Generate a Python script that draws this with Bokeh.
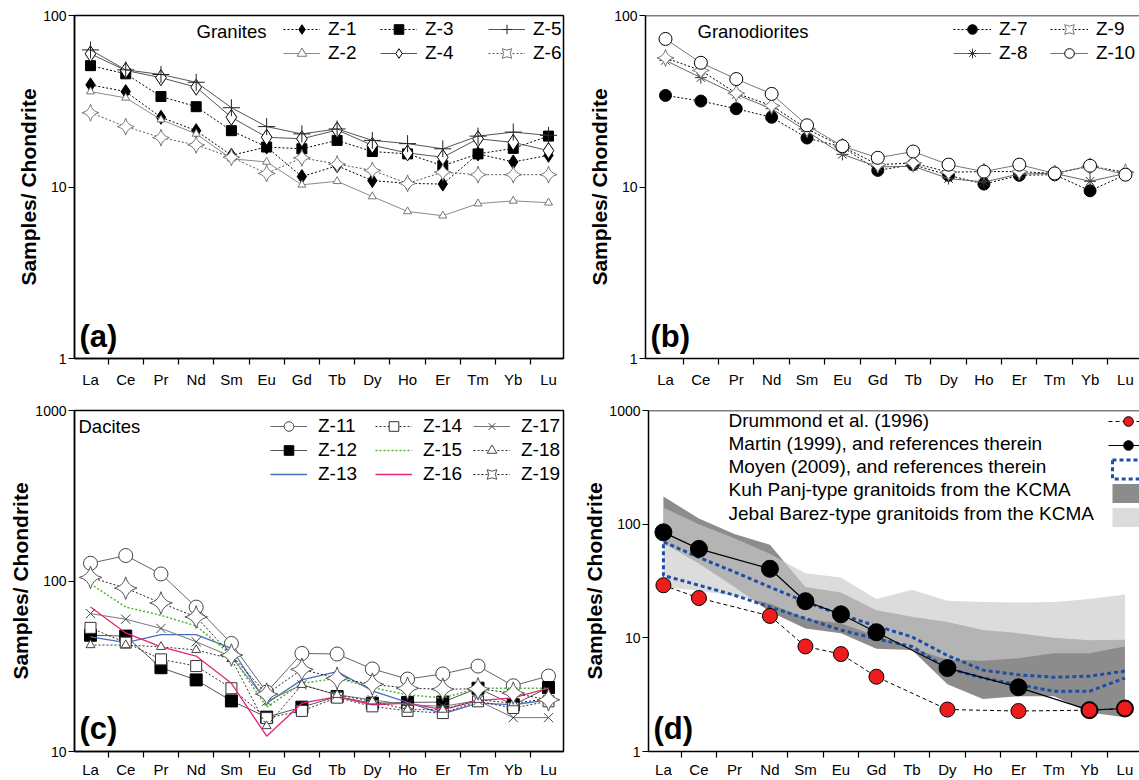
import math
from bokeh.plotting import figure
from bokeh.layouts import column, row
from bokeh.models import (FixedTicker, Legend, LegendItem, Label, Span, Range1d,
                          PrintfTickFormatter)
from bokeh.embed import file_html
from bokeh.resources import INLINE

FONT = "Liberation Sans"

elements = ["La", "Ce", "Pr", "Nd", "Sm", "Eu", "Gd", "Tb", "Dy", "Ho", "Er", "Tm", "Yb", "Lu"]
xi = list(range(len(elements)))

# ---------------- (a) Granites ----------------
z1 = [39.4, 36.0, 25.5, 21.3, 15.3, 17.1, 11.5, 13.3, 10.9, 10.5, 10.4, 15.6, 14.0, 15.3]
z2 = [36.0, 33.1, 24.7, 20.4, 14.6, 14.0, 10.3, 10.8, 8.8, 7.2, 6.8, 8.0, 8.3, 8.1]
z3 = [51.0, 45.7, 33.7, 29.4, 21.3, 17.1, 16.7, 18.7, 16.1, 15.6, 13.3, 15.6, 16.8, 19.8]
z4 = [59.8, 47.8, 43.4, 38.2, 25.5, 19.5, 19.1, 21.5, 17.5, 15.8, 14.9, 19.1, 18.2, 16.3]
z5 = [63.0, 48.2, 45.3, 40.8, 29.0, 22.5, 20.4, 21.8, 18.7, 17.9, 16.7, 19.8, 20.9, 20.0]
z6 = [27.1, 22.5, 19.4, 17.6, 14.9, 12.0, 14.8, 13.6, 12.5, 10.5, 12.2, 11.8, 11.8, 11.8]

# ---------------- (b) Granodiorites ----------------
z7 = [34.2, 31.7, 28.6, 25.5, 19.3, 17.1, 12.5, 13.5, 11.7, 10.4, 11.7, 11.8, 9.5, 11.8]
z8 = [54.7, 43.4, 34.6, 28.6, 21.1, 15.5, 13.1, 13.2, 11.2, 10.7, 11.9, 12.0, 10.8, 12.0]
z9 = [56.6, 47.8, 35.2, 29.8, 21.8, 17.2, 13.5, 13.8, 12.2, 12.3, 12.3, 12.0, 13.2, 12.2]
z10 = [73.0, 53.0, 42.6, 34.9, 22.9, 17.3, 14.8, 16.1, 13.5, 12.3, 13.5, 12.0, 13.3, 11.8]

# ---------------- (c) Dacites ----------------
z11 = [127, 141, 110, 70.3, 43.0, 22.3, 37.6, 37.3, 30.5, 26.6, 28.5, 31.7, 24.3, 27.7]
z12 = [48.1, 47.5, 31.0, 26.3, 19.8, 15.9, 18.2, 21.0, 19.2, 19.4, 19.5, 23.5, 18.8, 23.7]
z13 = [47.0, 43.5, 48.5, 48.5, 40.2, 19.2, 26.3, 29.4, 22.7, 19.4, 16.6, 19.2, 18.8, 20.1]
z14 = [53.1, 43.5, 34.7, 31.7, 23.5, 15.7, 17.3, 20.7, 18.4, 17.3, 16.8, 19.7, 18.0, 19.7]
z15 = [96.2, 70.3, 62.9, 54.5, 36.8, 18.2, 25.1, 26.9, 23.7, 21.5, 20.6, 23.5, 23.5, 23.5]
z16 = [70.3, 49.6, 41.1, 36.3, 25.1, 12.3, 19.2, 21.0, 18.8, 19.2, 17.6, 19.9, 20.6, 23.5]
z17 = [64.4, 59.7, 52.7, 44.0, 36.0, 19.7, 24.6, 21.5, 20.1, 18.8, 18.4, 19.9, 15.8, 15.8]
z18 = [42.1, 42.1, 41.1, 39.4, 34.9, 14.1, 24.6, 21.5, 19.7, 17.6, 17.6, 20.1, 19.2, 20.4]
z19 = [105, 90.8, 74.3, 61.5, 36.8, 21.7, 30.3, 26.9, 24.8, 23.5, 23.2, 23.3, 22.0, 20.1]

# ---------------- (d) Reference compositions ----------------
ref_elements = ["La", "Ce", "Nd", "Sm", "Eu", "Gd", "Dy", "Er", "Yb", "Lu"]
drummond = [29.0, 22.4, 15.6, 8.4, 7.2, 4.55, 2.34, 2.27, 2.31, 2.39]
martin = [84.7, 60.6, 40.5, 21.0, 16.1, 11.2, 5.42, 3.67, 2.31, 2.39]
moyen_upper = [70, 51, 38, 28, 20.7, 16, 12.7, 10.2, 7.0, 5.2, 4.73, 4.5, 4.6, 5.1]
moyen_lower = [35.4, 29, 23.7, 18.7, 14.8, 11.7, 9.8, 8.4, 5.4, 4.43, 3.87, 3.39, 3.39, 4.43]
kuh_hi = [175, 112, 82, 66, 28, 25, 17.5, 15.3, 13.8, 11.7, 11.0, 10.0, 9.5, 9.6]
kuh_lo = [68, 45, 28, 17, 12.1, 11, 8.0, 7.8, 3.9, 2.9, 3.06, 3.06, 2.2, 2.0]
jeb_hi = [140, 100, 75, 55, 37, 34, 22, 26.5, 21.2, 20.7, 20.5, 20.7, 22, 24]
jeb_lo = [28, 26, 23.5, 20, 14.8, 13.4, 10.4, 8.1, 6.4, 6.3, 6.6, 7.3, 7.3, 8.4]


class Geo:
    """Frame geometry helper (page pixel -> data coordinate for annotations)."""
    def __init__(self, left, top, unit, x0, top_log, decade):
        self.left, self.top, self.unit, self.x0 = left, top, unit, x0
        self.top_log, self.decade = top_log, decade

    def x(self, px):
        return self.x0 + (px - self.left) / self.unit

    def y(self, py):
        return 10 ** (self.top_log - (py - self.top) / self.decade)


def base_fig(width, height, bl, br, bt, bb, xr, yr, yticks, outline=True, xstand=3):
    p = figure(width=width, height=height, y_axis_type="log",
               x_range=Range1d(*xr), y_range=Range1d(*yr),
               output_backend="svg", toolbar_location=None,
               min_border_left=bl, min_border_right=br,
               min_border_top=bt, min_border_bottom=bb)
    p.xgrid.visible = False
    p.ygrid.visible = False
    p.background_fill_color = "white"
    if outline:
        p.outline_line_color = "black"
        p.outline_line_width = 1.5
        p.outline_line_alpha = 1.0
    else:
        p.outline_line_color = None
        p.add_layout(Span(location=yr[1], dimension="width", line_color="black", line_width=1.5))
    xa = p.xaxis[0]
    xa.ticker = FixedTicker(ticks=xi, minor_ticks=[i + 0.5 for i in range(len(elements) - 1)])
    xa.major_label_overrides = {i: e for i, e in enumerate(elements)}
    xa.major_tick_line_color = None
    xa.major_tick_out = 3
    xa.major_tick_in = 0
    xa.minor_tick_out = 6
    xa.minor_tick_in = 0
    xa.minor_tick_line_color = "black"
    xa.minor_tick_line_width = 1.2
    xa.major_label_standoff = xstand
    xa.major_label_text_font = FONT
    xa.major_label_text_font_size = "15px"
    xa.major_label_text_color = "black"
    xa.axis_line_width = 1.5
    xa.axis_line_color = "black"

    ya = p.yaxis[0]
    ya.ticker = FixedTicker(ticks=yticks)
    ya.formatter = PrintfTickFormatter(format="%d")
    ya.minor_tick_line_color = None
    ya.major_tick_out = 6
    ya.major_tick_in = 0
    ya.major_tick_line_width = 1.2
    ya.major_label_standoff = 2
    ya.major_label_text_font = FONT
    ya.major_label_text_font_size = "14px"
    ya.major_label_text_color = "black"
    ya.axis_line_width = 1.5
    ya.axis_line_color = "black"
    ya.axis_label = "Samples/ Chondrite"
    ya.axis_label_text_font = FONT
    ya.axis_label_text_font_style = "bold"
    ya.axis_label_text_font_size = "21px"
    ya.axis_label_text_color = "black"
    ya.axis_label_standoff = 0
    return p


def series(p, x, y, line_color="black", dash="solid", lw=1.0, marker=None, size=10,
           fill="black", mline="black", angle=0.0):
    rs = [p.line(x, y, line_color=line_color, line_dash=dash, line_width=lw)]
    if marker is not None:
        rs.append(p.scatter(x, y, marker=marker, size=size, fill_color=fill,
                            line_color=mline, line_width=1.0, angle=angle))
    return rs


def col_legend(p, items, x, y, glyph_w=37, fs="19px", spacing=-8, h=24, standoff=8):
    lg = Legend(items=items, location=(x, y), orientation="vertical",
                background_fill_alpha=0, border_line_alpha=0, padding=0, margin=0,
                spacing=spacing, glyph_width=glyph_w, glyph_height=h, label_height=h,
                label_standoff=standoff, label_text_font=FONT, label_text_font_size=fs,
                label_text_color="black", inactive_fill_alpha=0.0)
    p.add_layout(lg)
    return lg


def txt(p, x, y, text, size="18.5px", bold=False, baseline="middle"):
    p.add_layout(Label(x=x, y=y, text=text, text_font=FONT, text_font_size=size,
                       text_font_style="bold" if bold else "normal",
                       text_baseline=baseline, text_align="left", text_color="black"))


DOT = "2 2"
PIN = math.pi / 4

# ================= panel (a) =================
ga = Geo(left=74, top=15, unit=35.23, x0=-0.454, top_log=2, decade=171.5)
pa = base_fig(578, 398, 74, 15, 15, 40, (-0.454, 13.426), (1, 100), [1, 10, 100], xstand=6)
r1 = series(pa, xi, z1, dash=DOT, marker="diamond", size=14, fill="black")
r2 = series(pa, xi, z2, line_color="#8a8a8a", marker="triangle", size=8, fill="white", mline="#777777")
r3 = series(pa, xi, z3, dash=DOT, marker="square", size=10, fill="black")
r4 = series(pa, xi, z4, line_color="#555555", marker="diamond", size=16, fill="white", mline="black")
r5 = series(pa, xi, z5, line_color="#555555", marker="cross", size=17, fill=None, mline="#222222")
r6 = series(pa, xi, z6, line_color="#555555", dash=DOT, marker="square_pin", size=12, fill="white",
            mline="#777777", angle=PIN)
col_legend(pa, [LegendItem(label="Z-1", renderers=r1), LegendItem(label="Z-2", renderers=r2)], 209, 293)
col_legend(pa, [LegendItem(label="Z-3", renderers=r3), LegendItem(label="Z-4", renderers=r4)], 306, 293)
col_legend(pa, [LegendItem(label="Z-5", renderers=r5), LegendItem(label="Z-6", renderers=r6)], 414, 293)
txt(pa, ga.x(196), ga.y(31), "Granites")
txt(pa, ga.x(79), ga.y(353), "(a)", size="31px", bold=True, baseline="bottom")

# ================= panel (b) =================
gb = Geo(left=645, top=15, unit=35.38, x0=-0.565, top_log=2, decade=171.5)
pb = base_fig(561, 398, 67, 0, 15, 40, (-0.565, 13.397), (1, 100), [1, 10, 100], outline=False, xstand=6)
r7 = series(pb, xi, z7, dash=DOT, marker="circle", size=12, fill="black")
r8 = series(pb, xi, z8, line_color="#666666", marker="asterisk", size=12, fill=None, mline="#333333")
r9 = series(pb, xi, z9, dash=DOT, marker="square_pin", size=12, fill="white", mline="#777777", angle=PIN)
r10 = series(pb, xi, z10, line_color="#777777", marker="circle", size=13, fill="white", mline="black")
col_legend(pb, [LegendItem(label="Z-7", renderers=r7), LegendItem(label="Z-8", renderers=r8)], 308, 293, glyph_w=38)
col_legend(pb, [LegendItem(label="Z-9", renderers=r9), LegendItem(label="Z-10", renderers=r10)], 405, 293, glyph_w=38)
txt(pb, gb.x(697), gb.y(31), "Granodiorites")
txt(pb, gb.x(650), gb.y(353), "(b)", size="31px", bold=True, baseline="bottom")

# ================= panel (c) =================
gc = Geo(left=74, top=410, unit=35.23, x0=-0.454, top_log=3, decade=172)
pc = base_fig(578, 382, 74, 15, 12, 26, (-0.454, 13.426), (10, 1000), [10, 100, 1000])
r11 = series(pc, xi, z11, line_color="#666666", marker="circle", size=14, fill="white", mline="#444444")
r12 = series(pc, xi, z12, line_color="#555555", marker="square", size=12, fill="black")
r13 = series(pc, xi, z13, line_color="#4a6fc0", lw=1.3)
r14 = series(pc, xi, z14, line_color="#333333", dash=DOT, marker="square", size=11, fill="white", mline="#333333")
r15 = series(pc, xi, z15, line_color="#4cb82d", dash=DOT, lw=1.5)
r16 = series(pc, xi, z16, line_color="#e8247c", lw=1.3)
r17 = series(pc, xi, z17, line_color="#777777", marker="x", size=13, fill=None, mline="#444444")
r18 = series(pc, xi, z18, line_color="#333333", dash=DOT, marker="triangle", size=9, fill="white", mline="#444444")
r19 = series(pc, xi, z19, line_color="#222222", dash=DOT, marker="square_pin", size=16, fill="white",
             mline="#555555", angle=PIN)
col_legend(pc, [LegendItem(label="Z-11", renderers=r11), LegendItem(label="Z-12", renderers=r12),
                LegendItem(label="Z-13", renderers=r13)], 196, 265, spacing=-9, standoff=11)
col_legend(pc, [LegendItem(label="Z-14", renderers=r14), LegendItem(label="Z-15", renderers=r15),
                LegendItem(label="Z-16", renderers=r16)], 301, 265, spacing=-9, standoff=11)
col_legend(pc, [LegendItem(label="Z-17", renderers=r17), LegendItem(label="Z-18", renderers=r18),
                LegendItem(label="Z-19", renderers=r19)], 399, 265, spacing=-9, standoff=11)
txt(pc, gc.x(78), gc.y(426), "Dacites")
txt(pc, gc.x(79), gc.y(748), "(c)", size="31px", bold=True, baseline="bottom")

# ================= panel (d) =================
gd = Geo(left=648, top=410, unit=35.5, x0=-0.42, top_log=3, decade=114.67)
pd_ = base_fig(561, 382, 70, 0, 12, 26, (-0.42, 13.41), (1, 1000), [1, 10, 100, 1000], outline=False)
ref_x = [elements.index(e) for e in ref_elements]
rk = pd_.varea(x=xi, y1=kuh_lo, y2=kuh_hi, fill_color="#8c8c8c", fill_alpha=1.0)
rj = pd_.varea(x=xi, y1=jeb_lo, y2=jeb_hi, fill_color="#c9c9c9", fill_alpha=0.65)
moy_x = xi[::-1] + xi
moy_y = moyen_upper[::-1] + moyen_lower
rm = pd_.line(moy_x, moy_y, line_color="#1f4ea6", line_dash="4 3", line_width=3)
# outlined-area version of the same field, used only as its legend swatch
rm_leg = pd_.patch(moy_x, moy_y, fill_color="white", fill_alpha=0.0,
                   line_color="#1f4ea6", line_dash="4 3", line_width=3, visible=False)
rmart = series(pd_, ref_x, martin, line_color="black", lw=1.2, marker="circle", size=17, fill="black")
rdrum = series(pd_, ref_x, drummond, line_color="black", dash="4 3", lw=1.0, marker="circle", size=15,
               fill="#ee1c1c", mline="black")
col_legend(pd_, [LegendItem(label=" ", renderers=rdrum), LegendItem(label=" ", renderers=rmart),
                 LegendItem(label=" ", renderers=[rm_leg]), LegendItem(label=" ", renderers=[rk]),
                 LegendItem(label=" ", renderers=[rj])], 460, 222, glyph_w=40, spacing=-6)
legend_texts = ["Drummond et al. (1996)", "Martin (1999), and references therein",
                "Moyen (2009), and references therein", "Kuh Panj-type granitoids from the KCMA",
                "Jebal Barez-type granitoids from the KCMA"]
for t, py in zip(legend_texts, [420, 443, 466, 490, 514]):
    txt(pd_, gd.x(728), gd.y(py), t, size="19px")
txt(pd_, gd.x(653), gd.y(748), "(d)", size="31px", bold=True, baseline="bottom")

layout = column(row(pa, pb), row(pc, pd_))
open("out.html", "w").write(file_html(layout, INLINE))
